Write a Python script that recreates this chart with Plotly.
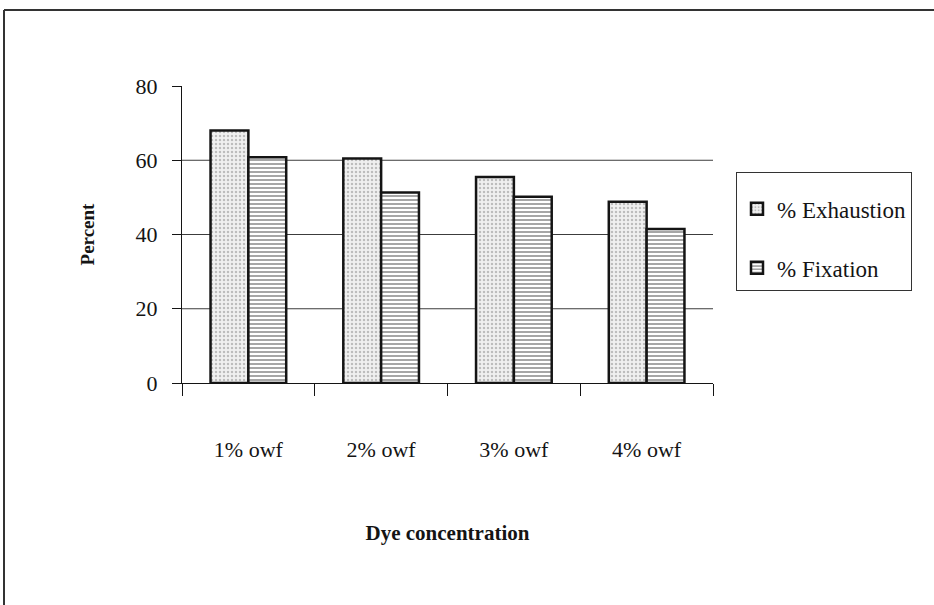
import plotly.graph_objects as go

# Dye uptake results by dye concentration
categories = ["1% owf", "2% owf", "3% owf", "4% owf"]
exhaustion = [68.0, 60.5, 55.5, 48.8]
fixation = [60.8, 51.3, 50.2, 41.5]
y_ticks = [0, 20, 40, 60, 80]
grid_values = [20, 40, 60]

W, H = 934, 605
L, R, T, B = 182, 221, 86, 222
pw, ph = W - L - R, H - T - B

serif = "Liberation Serif, Times New Roman, serif"

fig = go.Figure()
fig.add_trace(go.Bar(
    x=categories, y=exhaustion, name="% Exhaustion", legendgroup="a",
    marker=dict(color="#ececec",
                line=dict(color="#141414", width=2.5),
                pattern=dict(shape=".", fgcolor="#8a8a8a", bgcolor="#f0f0f0",
                             size=4, solidity=0.3)),
))
fig.add_trace(go.Bar(
    x=categories, y=fixation, name="% Fixation", legendgroup="b",
    marker=dict(color="#ffffff",
                line=dict(color="#141414", width=2.5),
                pattern=dict(shape="-", fgcolor="#3a3a3a", bgcolor="#ffffff",
                             size=4, solidity=0.45)),
))

# horizontal gridlines (none along the top edge)
for g in grid_values:
    fig.add_shape(type="line", xref="x domain", yref="y", x0=0, x1=1, y0=g, y1=g,
                  line=dict(color="#3c3c3c", width=1), layer="below")


def px_x(p):
    return (p - L) / pw


def px_y(p):
    return (H - B - p) / ph


# outer frame around the chart
fig.add_shape(type="line", xref="paper", yref="paper",
              x0=px_x(4), x1=px_x(934), y0=px_y(10), y1=px_y(10),
              line=dict(color="#333333", width=2))
fig.add_shape(type="line", xref="paper", yref="paper",
              x0=px_x(4), x1=px_x(4), y0=px_y(10), y1=px_y(605),
              line=dict(color="#333333", width=2))

fig.update_layout(
    width=W, height=H,
    margin=dict(l=L, r=R, t=T, b=B),
    paper_bgcolor="white", plot_bgcolor="white",
    barmode="group", bargap=0.43, bargroupgap=0.0,
    font=dict(family=serif, size=22, color="#141414"),
    showlegend=True,
    legend=dict(
        x=px_x(736), y=px_y(172), xanchor="left", yanchor="top",
        bordercolor="#333333", borderwidth=1, bgcolor="white",
        font=dict(family=serif, size=23, color="#141414"),
        title=dict(text=" ", font=dict(size=11)),
        traceorder="grouped", tracegroupgap=26,
        itemwidth=30,
    ),
    xaxis=dict(
        type="category", showline=True, linecolor="#141414", linewidth=1,
        ticks="outside", tickson="boundaries", ticklen=12, tickcolor="#141414",
        showgrid=False, ticklabelstandoff=47,
        title=dict(text="<b>Dye concentration</b>", standoff=63,
                   font=dict(family=serif, size=21)),
    ),
    yaxis=dict(
        range=[0, 80], tickvals=y_ticks, showline=True, linecolor="#141414",
        linewidth=1, ticks="outside", ticklen=9, tickcolor="#141414",
        showgrid=False, zeroline=False, ticklabelstandoff=10,
        title=dict(text="<b>Percent</b>", standoff=35,
                   font=dict(family=serif, size=19)),
    ),
)

fig.write_html("out.html")
